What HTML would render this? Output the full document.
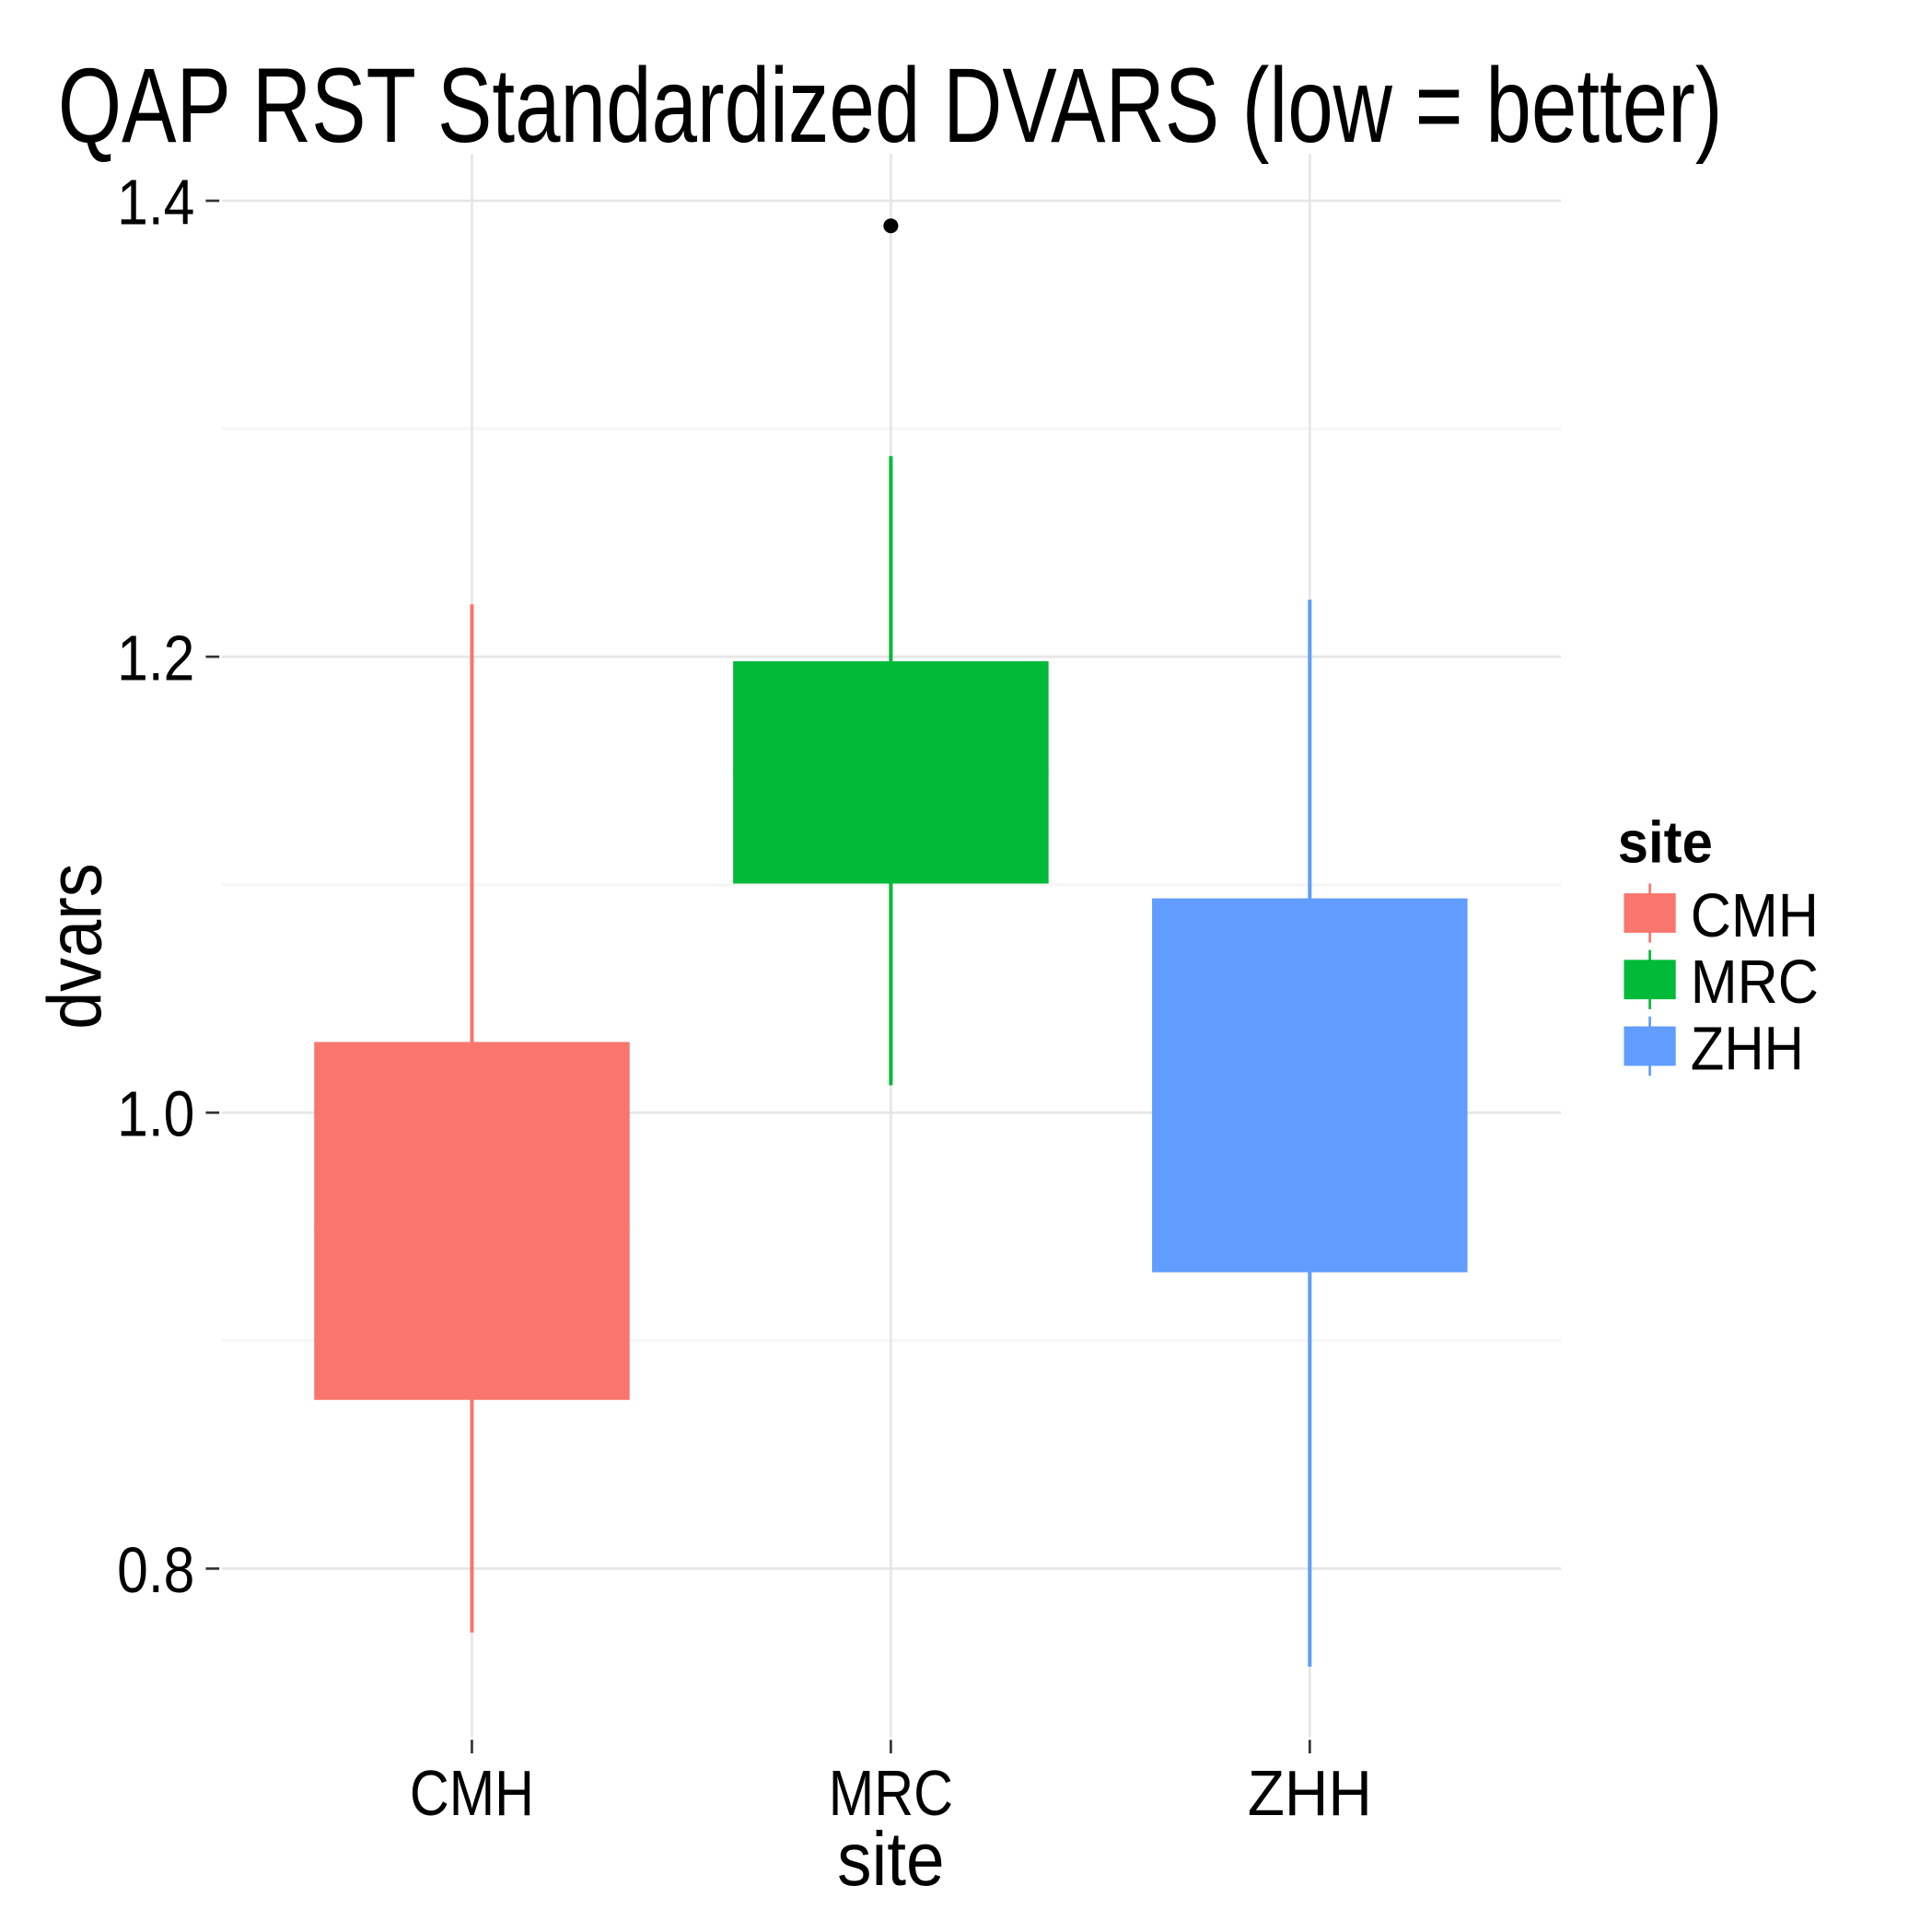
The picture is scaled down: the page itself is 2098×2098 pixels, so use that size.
<!DOCTYPE html>
<html><head><meta charset="utf-8"><style>html,body{margin:0;padding:0;background:#fff}svg{display:block}text{font-family:"Liberation Sans Narrow","Liberation Sans",sans-serif;fill:#000}</style></head>
<body>
<svg id="chart" width="2098" height="2098" viewBox="0 0 1568 1568" xmlns="http://www.w3.org/2000/svg">
<rect width="1568" height="1568" fill="#fff"/>
<text x="47" y="115" font-size="86" textLength="1351" lengthAdjust="spacingAndGlyphs">QAP RST Standardized DVARS (low = better)</text>
<g id="grid"></g><g id="marks"></g><g id="axes"></g>
<text x="723" y="1530" font-size="62" text-anchor="middle" textLength="87" lengthAdjust="spacingAndGlyphs">site</text>
<text transform="translate(82,768) rotate(-90)" font-size="62" text-anchor="middle" textLength="135" lengthAdjust="spacingAndGlyphs">dvars</text>
<g id="legend">
<text x="1313" y="700" font-size="48" font-weight="bold" textLength="77" lengthAdjust="spacingAndGlyphs">site</text>
</g>
</svg>
<script>
const categories=["CMH","MRC","ZHH"];
const colors=["#F8766D","#00BA38","#619CFF"];
const whiskerLow=[0.772,1.012,0.757];
const q1=[0.874,1.1005,0.930];
const median=[0.95,1.15,1.0];
const q3=[1.031,1.198,1.094];
const whiskerHigh=[1.223,1.288,1.225];
const outliers=[[],[1.389],[]];
const yTicks=[0.8,1.0,1.2,1.4];
const yMinor=[0.9,1.1,1.3];
const NS="http://www.w3.org/2000/svg";
const L=180,R=1267,T=125,B=1410,yMin=0.726,yMax=1.4205;
const y=v=>B-(v-yMin)/(yMax-yMin)*(B-T);
const x=i=>383+i*340;
function mk(tag,attrs,parent){const e=document.createElementNS(NS,tag);for(const k in attrs)e.setAttribute(k,attrs[k]);document.getElementById(parent).appendChild(e);return e;}
yMinor.forEach(v=>{const e=mk('line',{x1:L,x2:R,y1:y(v),y2:y(v),stroke:'#f5f5f5','stroke-width':2},'grid');

});
yTicks.forEach(v=>{const e=mk('line',{x1:L,x2:R,y1:y(v),y2:y(v),stroke:'#e6e6e6','stroke-width':2},'grid');


const t=mk('line',{x1:167,x2:178,y1:y(v),y2:y(v),stroke:'#333','stroke-width':2},'axes');


const l=mk('text',{x:158,y:y(v)+19,'font-size':52,'text-anchor':'end',textLength:63,lengthAdjust:'spacingAndGlyphs'},'axes');
l.textContent=v.toFixed(1);

});
categories.forEach((c,i)=>{const cx=x(i);
const g=mk('line',{x1:cx,x2:cx,y1:T,y2:B,stroke:'#e6e6e6','stroke-width':2},'grid');


const w=mk('line',{x1:cx,x2:cx,y1:y(whiskerHigh[i]),y2:y(whiskerLow[i]),stroke:colors[i],'stroke-width':3},'marks');


const b=mk('rect',{x:cx-128,width:256,y:y(q3[i]),height:y(q1[i])-y(q3[i]),fill:colors[i]},'marks');


const m=mk('line',{x1:cx-128,x2:cx+128,y1:y(median[i]),y2:y(median[i]),stroke:colors[i],'stroke-width':2},'marks');


outliers[i].forEach(o=>{const p=mk('circle',{cx:cx,cy:y(o),r:6,fill:'#000'},'marks');

});
const t=mk('line',{x1:cx,x2:cx,y1:1412,y2:1423,stroke:'#333','stroke-width':2},'axes');


const l=mk('text',{x:cx,y:1473,'font-size':52,'text-anchor':'middle',textLength:101,lengthAdjust:'spacingAndGlyphs'},'axes');
l.textContent=c;


const ky=725+i*54;
const kl=mk('line',{x1:1339,x2:1339,y1:ky-8,y2:ky+40,stroke:colors[i],'stroke-width':2},'legend');


const kr=mk('rect',{x:1318,y:ky,width:42,height:32,fill:colors[i]},'legend');


const kt=mk('text',{x:1372,y:ky+35,'font-size':50,textLength:c==='ZHH'?92:104,lengthAdjust:'spacingAndGlyphs'},'legend');
kt.textContent=c;

});
</script>
</body></html>
